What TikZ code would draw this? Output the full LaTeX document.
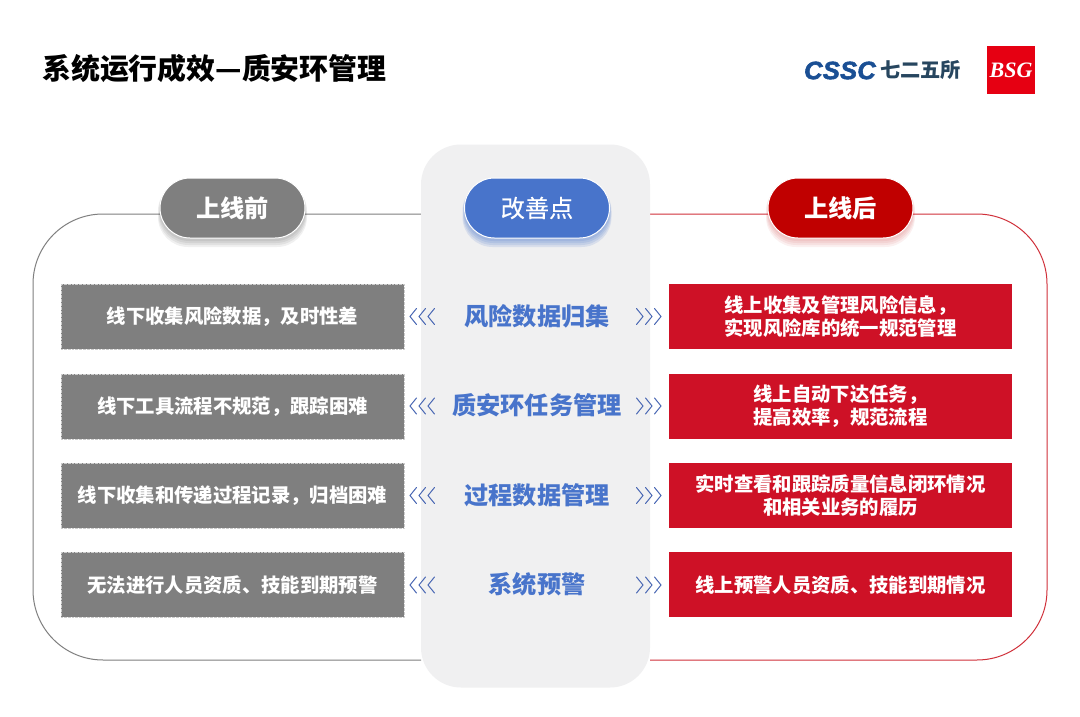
\documentclass[tikz,border=0pt]{standalone}
\usepackage{fontspec}
\setmainfont{Noto Sans CJK SC}
\newfontfamily\logolat{Liberation Sans}
\newfontfamily\logoserif{Liberation Serif}
\usetikzlibrary{shapes.misc}
\definecolor{panelgray}{HTML}{F0F0F1}
\definecolor{boxgray}{HTML}{7F7F7F}
\definecolor{boxred}{HTML}{CE1126}
\definecolor{pillred}{HTML}{C00000}
\definecolor{accent}{HTML}{4874CB}
\definecolor{chevblue}{HTML}{4A68B4}
\definecolor{lineRed}{HTML}{D0303A}
\definecolor{logoblue}{HTML}{1A4F94}
\definecolor{logodark}{HTML}{27465F}
\definecolor{bsgred}{HTML}{E60012}
\tikzset{
  x=1pt,y=-1pt,
  txtbody/.style={font=\fontsize{19.35}{23.5}\selectfont\bfseries,text=white,align=center,inner sep=0pt},
  leftbox/.style={rectangle,minimum width=343pt,minimum height=65pt,fill=boxgray,draw=white!60!boxgray,densely dotted,line width=.35pt,txtbody},
  rightbox/.style={rectangle,minimum width=343pt,minimum height=65pt,fill=boxred,txtbody},
  midlabel/.style={font=\fontsize{24.2}{28}\selectfont\bfseries,text=accent,inner sep=0pt},
  pillbox/.style={rounded rectangle,minimum width=145pt,minimum height=60pt,draw=white,line width=1pt,text=white,inner sep=0pt,font=\fontsize{24.2}{28}\selectfont},
  chev/.style={draw=chevblue,line width=1pt,line cap=round,line join=miter},
}
\newcommand{\softshadow}[4]{% cx, cy, shadow colour, opacity
  \foreach \g in {8,6,4,2}{
    \fill[#3,opacity=#4,rounded corners=30pt] ({#1-72.5-\g*.25},{#2-30+3}) rectangle ({#1+72.5+\g*.25},{#2+30+1+\g});
  }}
\begin{document}
\begin{tikzpicture}
\useasboundingbox (0,0) rectangle (1080,717);
\fill[white] (0,0) rectangle (1080,717);

% outlines
\coordinate (ltop) at (421,214);
\coordinate (lbot) at (421,660);
\coordinate (rtop) at (650,214);
\coordinate (rbot) at (650,660);
\draw[boxgray,line width=1pt,rounded corners=70pt] (ltop) -- (33,214) -- (33,660) -- (lbot);
\draw[lineRed,line width=1pt,rounded corners=70pt] (rtop) -- (1047,214) -- (1047,660) -- (rbot);

% centre panel
\node[name=panel,rectangle,rounded corners=40pt,fill=panelgray,minimum width=229pt,minimum height=543pt,inner sep=0pt] at (535.5,416) {};

% pills
\softshadow{232.5}{208}{black}{.06}
\softshadow{537}{208}{accent}{.14}
\softshadow{840.5}{208}{pillred}{.06}
\node[pillbox,fill=boxgray,font=\fontsize{24.2}{28}\selectfont\bfseries] (before) at (232.5,208) {上线前};
\node[pillbox,fill=accent] (improve) at (537,208) {\addfontfeature{FakeBold=0.4}改善点};
\node[pillbox,fill=pillred,font=\fontsize{24.2}{28}\selectfont\bfseries] (after) at (840.5,208) {上线后};

% rows
\node[leftbox] (l1) at (232.5,316.7) {线下收集风险数据，及时性差};
\node[leftbox] (l2) at (232.5,406.2) {线下工具流程不规范，跟踪困难};
\node[leftbox] (l3) at (232.5,495.5) {线下收集和传递过程记录，归档困难};
\node[leftbox] (l4) at (232.5,584.8) {无法进行人员资质、技能到期预警};

\node[midlabel] (m1) at (537,316) {风险数据归集};
\node[midlabel] (m2) at (537,405.5) {质安环任务管理};
\node[midlabel] (m3) at (537,495) {过程数据管理};
\node[midlabel] (m4) at (537,584.5) {系统预警};

\node[rightbox] (r1) at (840.5,316.7) {线上收集及管理风险信息，\\实现风险库的统一规范管理};
\node[rightbox] (r2) at (840.5,406.2) {线上自动下达任务，\\提高效率，规范流程};
\node[rightbox] (r3) at (840.5,495.5) {实时查看和跟踪质量信息闭环情况\\和相关业务的履历};
\node[rightbox] (r4) at (840.5,584.8) {线上预警人员资质、技能到期情况};

% chevrons
\foreach \yy in {316.5,406,495.5,585}{
  \foreach \dx in {0,9,18}{
    \draw[chev] ({416.5+\dx},{\yy-8}) -- ({410+\dx},\yy) -- ({416.5+\dx},{\yy+8});
    \draw[chev] ({636.5+\dx},{\yy-8}) -- ({643+\dx},\yy) -- ({636.5+\dx},{\yy+8});
  }
}

% title
\node[anchor=west,inner sep=0pt,font=\fontsize{28.9}{32}\selectfont\bfseries] (title) at (42,68) {系统运行成效—质安环管理};

% logos
\node[anchor=west,inner sep=0pt,text=logoblue,xscale=1.02] (cssc) at (804,70.5)
  {\logolat\bfseries\itshape\fontsize{25}{26}\selectfont\addfontfeature{FakeBold=2.2,LetterSpace=1}CSSC};
\node[anchor=west,inner sep=0pt,text=logodark,font=\fontsize{20.2}{22}\selectfont\bfseries] (suo) at (880,70.5) {七二五所};
\node[rectangle,fill=bsgred,minimum size=48pt,inner sep=0pt,text=white] (bsg) at (1011,70)
  {\logoserif\bfseries\itshape\fontsize{22}{23}\selectfont BSG};
\end{tikzpicture}
\end{document}
